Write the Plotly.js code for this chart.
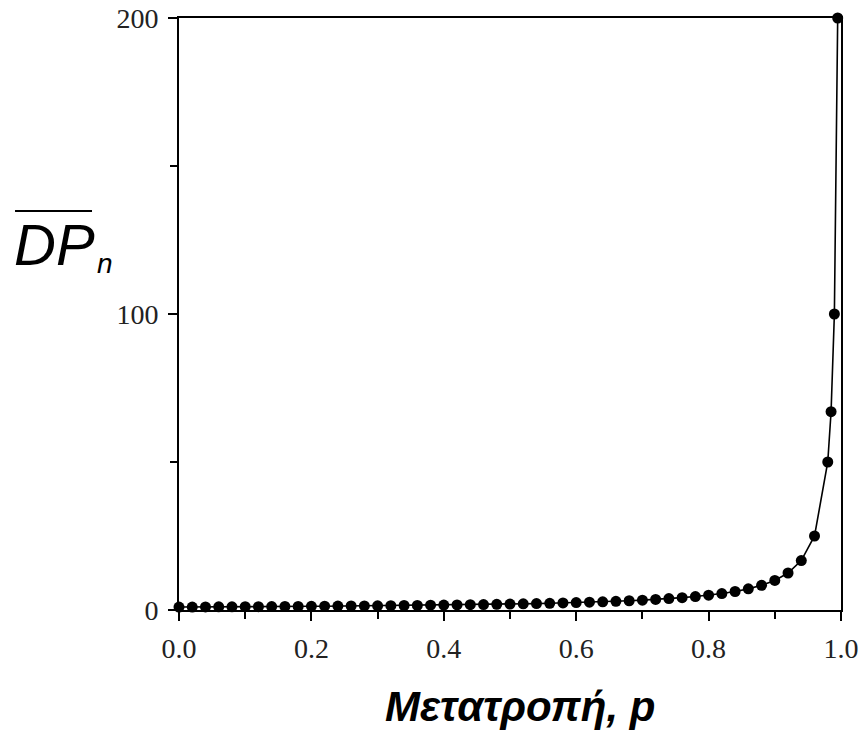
<!DOCTYPE html>
<html>
<head>
<meta charset="utf-8">
<script src="https://cdn.plot.ly/plotly-3.0.1.min.js"></script>
<style>
html,body{margin:0;padding:0;background:#fff;}
#chart{width:861px;height:737px;}
</style>
</head>
<body>
<div id="chart"></div>
<script>
// Conversion p (x) and number-average degree of polymerisation (y)
const conversion = [0.00,0.02,0.04,0.06,0.08,0.10,0.12,0.14,0.16,0.18,
  0.20,0.22,0.24,0.26,0.28,0.30,0.32,0.34,0.36,0.38,
  0.40,0.42,0.44,0.46,0.48,0.50,0.52,0.54,0.56,0.58,
  0.60,0.62,0.64,0.66,0.68,0.70,0.72,0.74,0.76,0.78,
  0.80,0.82,0.84,0.86,0.88,0.90,0.92,0.94,0.96,0.98,
  0.985,0.99,0.995];
const dpn = [1.0,1.0,1.04,1.06,1.09,1.11,1.14,1.16,1.19,1.22,
  1.25,1.28,1.32,1.35,1.39,1.43,1.47,1.52,1.56,1.61,
  1.67,1.72,1.79,1.85,1.92,2.0,2.08,2.17,2.27,2.38,
  2.5,2.63,2.78,2.94,3.13,3.33,3.57,3.85,4.17,4.55,
  5.0,5.56,6.25,7.14,8.33,10,12.5,16.7,25,50,
  67,100,200];
const xTickVals = [0,0.2,0.4,0.6,0.8,1.0];
const xTickText = ["0.0","0.2","0.4","0.6","0.8","1.0"];
const yTickVals = [0,100,200];
const yTickText = ["0","100","200"];
const xTitle = "Μετατροπή, p";
const yTitleMain = "DP";
const yTitleSub = "n";

const trace = {
  x: conversion, y: dpn, type: 'scatter', mode: 'lines+markers',
  line: {color: '#000', width: 1.6},
  marker: {color: '#000', size: 11, symbol: 'circle'},
  cliponaxis: false, hoverinfo: 'skip'
};

const tickFont = {family: '"Liberation Serif", "Times New Roman", serif', size: 28, color: '#222'};

const layout = {
  width: 861, height: 737,
  margin: {l: 179, r: 20, t: 18, b: 127},
  paper_bgcolor: '#fff', plot_bgcolor: '#fff',
  showlegend: false,
  xaxis: {
    range: [0, 1], tickvals: xTickVals, ticktext: xTickText,
    ticks: 'outside', ticklen: 9, tickwidth: 2, tickcolor: '#000',
    minor: {dtick: 0.1, tick0: 0, ticks: 'outside', ticklen: 7, tickwidth: 2, tickcolor: '#000'},
    showline: true, linecolor: '#000', linewidth: 2, mirror: true,
    showgrid: false, zeroline: false, tickfont: tickFont, ticklabelstandoff: 3
  },
  yaxis: {
    range: [0, 200], tickvals: yTickVals, ticktext: yTickText,
    ticks: 'outside', ticklen: 9, tickwidth: 2, tickcolor: '#000',
    minor: {dtick: 50, tick0: 0, ticks: 'outside', ticklen: 7, tickwidth: 2, tickcolor: '#000'},
    showline: true, linecolor: '#000', linewidth: 2, mirror: true,
    showgrid: false, zeroline: false, tickfont: tickFont, ticklabelstandoff: 4
  },
  annotations: [
    {text: '<b><i>' + xTitle + '</i></b>', xref: 'paper', yref: 'paper',
     x: 0.515, y: -0.12, xanchor: 'center', yanchor: 'top', showarrow: false,
     font: {family: '"Liberation Sans", Arial, sans-serif', size: 42, color: '#000'}},
    {text: '<i>' + yTitleMain + '</i>', xref: 'paper', yref: 'paper',
     x: -0.252, y: 0.617, xanchor: 'left', yanchor: 'middle', showarrow: false,
     font: {family: '"Liberation Sans", Arial, sans-serif', size: 58, color: '#000'}},
    {text: '<i>' + yTitleSub + '</i>', xref: 'paper', yref: 'paper',
     x: -0.127, y: 0.585, xanchor: 'left', yanchor: 'middle', showarrow: false,
     font: {family: '"Liberation Sans", Arial, sans-serif', size: 28, color: '#000'}}
  ],
  shapes: [
    {type: 'line', xref: 'paper', yref: 'paper', x0: -0.2477, x1: -0.1314, y0: 0.674, y1: 0.674,
     line: {color: '#000', width: 2}}
  ]
};

Plotly.newPlot('chart', [trace], layout, {displayModeBar: false, staticPlot: true});
</script>
</body>
</html>
